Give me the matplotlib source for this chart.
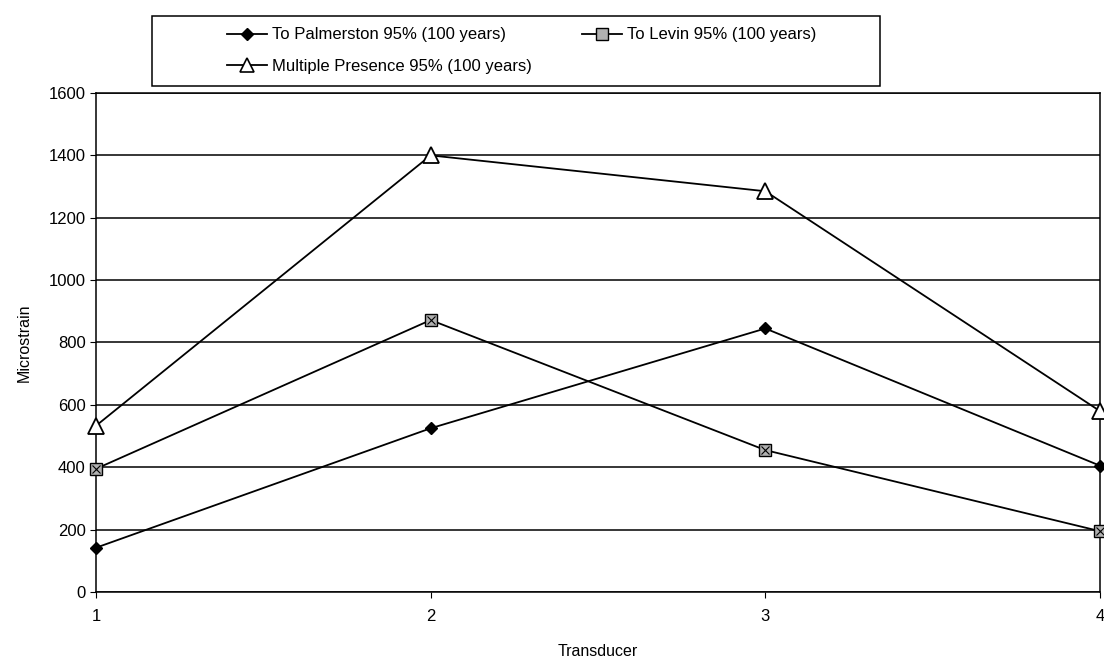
import matplotlib.pyplot as plt
from matplotlib.lines import Line2D
from matplotlib.patches import Rectangle

plt.rcParams['font.family'] = ['Liberation Sans', 'DejaVu Sans']

transducer = [1, 2, 3, 4]
palmerston = [142, 525, 845, 405]
levin = [395, 872, 455, 195]
multiple = [533, 1400, 1285, 580]

W, H = 1104, 666
fig = plt.figure(figsize=(W / 100, H / 100), dpi=100)
ax = fig.add_axes([96 / W, 1 - 592 / H, (1100 - 96) / W, (592 - 93) / H])

# lines first, markers drawn on top
ax.plot(transducer, palmerston, '-', color='black', lw=1.3,
        marker='D', ms=6.5, mfc='black', mec='black', clip_on=False, zorder=3)
ax.plot(transducer, levin, '-', color='black', lw=1.3,
        marker='s', ms=9, mfc='#b0b0b0', mec='black', mew=1, clip_on=False, zorder=3)
ax.plot(transducer, levin, ls='none', marker='x', ms=5.5, mec='black', mew=0.8,
        clip_on=False, zorder=4)
ax.plot(transducer, multiple, '-', color='black', lw=1.3,
        marker='^', ms=11, mfc='white', mec='black', mew=1.3, clip_on=False, zorder=3)

ax.set_xlim(1, 4)
ax.set_ylim(0, 1600)
ax.set_xticks(transducer)
ax.set_yticks(range(0, 1601, 200))
ax.yaxis.grid(True, color='black', lw=1.1)
ax.set_axisbelow(True)
for s in ax.spines.values():
    s.set_color('black')
    s.set_linewidth(1.1)
ax.tick_params(axis='both', direction='out', length=4, labelsize=12, colors='black')
ax.tick_params(axis='x', pad=8)

ax.set_xlabel('Transducer', fontsize=11.5, labelpad=15)
ax.set_ylabel('Microstrain', fontsize=11.5, labelpad=12)

h_palm = Line2D([], [], color='black', lw=1.3, marker='D', ms=6.5, mfc='black')
h_lev = Line2D([], [], color='black', lw=1.3, marker='s', ms=9, mfc='#b0b0b0')
h_mult = Line2D([], [], color='black', lw=1.3, marker='^', ms=10, mfc='white', mew=1.2)
fig.legend([h_palm, h_mult, h_lev],
           ['To Palmerston 95% (100 years)', 'Multiple Presence 95% (100 years)',
            'To Levin 95% (100 years)'],
           ncol=2, loc='upper left', bbox_to_anchor=(214 / W, 1 - 14 / H),
           frameon=False, fontsize=12,
           handlelength=2.4, handletextpad=0.3, columnspacing=3.0,
           labelspacing=1.0, borderpad=0.3)

# legend box
fig.patches.append(Rectangle((152 / W, 1 - 86 / H), (880 - 152) / W, (86 - 16) / H,
                             transform=fig.transFigure, fill=False,
                             edgecolor='black', lw=1.1))

fig.savefig('out.png', dpi=100)
